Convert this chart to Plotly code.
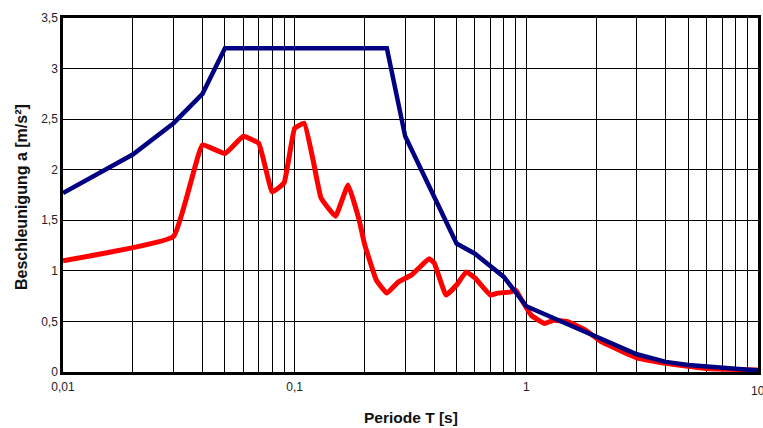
import plotly.graph_objects as go

# Design spectrum (blue)
t_design = [0.01, 0.02, 0.03, 0.04, 0.05, 0.25, 0.3, 0.5, 0.6, 0.8, 1.0, 2.0, 3.0, 4.0, 5.0, 10.0]
a_design = [1.77, 2.15, 2.46, 2.75, 3.2, 3.2, 2.33, 1.27, 1.17, 0.94, 0.65, 0.35, 0.175, 0.10, 0.07, 0.015]

# Response spectrum (red)
t_resp = [0.01, 0.03, 0.04, 0.05, 0.06, 0.07, 0.08, 0.09, 0.1, 0.11, 0.12, 0.13, 0.15, 0.17, 0.19,
          0.2, 0.225, 0.25, 0.28, 0.32, 0.38, 0.4, 0.45, 0.5, 0.55, 0.6, 0.7, 0.75, 0.85, 0.9, 0.95,
          1.05, 1.2, 1.3, 1.5, 1.8, 2.1, 2.5, 3.0, 4.0, 6.0, 10.0]
a_resp = [1.10, 1.34, 2.245, 2.16, 2.33, 2.26, 1.78, 1.87, 2.41, 2.46, 2.10, 1.72, 1.54, 1.85, 1.50,
          1.27, 0.91, 0.78, 0.89, 0.96, 1.12, 1.08, 0.76, 0.86, 0.99, 0.93, 0.76, 0.78, 0.79, 0.81, 0.72,
          0.56, 0.48, 0.51, 0.50, 0.415, 0.30, 0.22, 0.14, 0.085, 0.035, 0.02]

x_grid = [m * d for d in (0.01, 0.1, 1.0) for m in range(1, 10)] + [10.0]
x_labels = {0.01: "0,01", 0.1: "0,1", 1.0: "1"}
x_ticktext = [x_labels.get(round(v, 6), "") for v in x_grid]
x_last_label = "10"

y_ticks = [0, 0.5, 1, 1.5, 2, 2.5, 3, 3.5]
y_ticktext = ["0", "0,5", "1", "1,5", "2", "2,5", "3", "3,5"]

fig = go.Figure()
fig.add_trace(go.Scatter(x=t_resp, y=a_resp, mode="lines",
                         line=dict(color="#FF0000", width=5, shape="spline", smoothing=0.3),
                         showlegend=False))
fig.add_trace(go.Scatter(x=t_design, y=a_design, mode="lines",
                         line=dict(color="#000080", width=4.5),
                         showlegend=False))

font = "Liberation Sans, Arial, sans-serif"
W, H = 763, 428
L, R, T, B = 63, 5, 18, 56
fig.update_layout(
    width=W, height=H,
    margin=dict(l=L, r=R, t=T, b=B, autoexpand=False),
    paper_bgcolor="white", plot_bgcolor="white",
    font=dict(family=font, size=12, color="black"),
)
fig.update_xaxes(
    type="log", range=[-2, 1], automargin=False,
    tickvals=x_grid, ticktext=x_ticktext,
    showgrid=True, gridcolor="black", gridwidth=1,
    showline=True, linecolor="black", linewidth=2.5, mirror=True,
    ticks="", zeroline=False, ticklabelstandoff=2,
    tickfont=dict(size=12, color="#222"),
)
fig.update_yaxes(
    range=[0, 3.5], automargin=False,
    tickvals=y_ticks, ticktext=y_ticktext,
    showgrid=True, gridcolor="black", gridwidth=1,
    showline=True, linecolor="black", linewidth=2.5, mirror=True,
    ticks="", zeroline=False,
    tickfont=dict(size=12, color="#222"),
)
pw = W - L - R
ph = H - T - B
# last x tick label (partly clipped at the right edge as in the original)
fig.add_annotation(text=x_last_label, xref="x", yref="paper", x=1, y=-(391 - (H - B)) / ph,
                   showarrow=False, font=dict(size=12, color="#222"),
                   xanchor="center", yanchor="middle")
fig.add_annotation(text="<b>Periode T [s]</b>", xref="paper", yref="paper",
                   x=0.5, y=-(417 - (H - B)) / ph, showarrow=False,
                   font=dict(size=15.5, color="#111"), xanchor="center", yanchor="middle")
fig.add_annotation(text="<b>Beschleunigung a [m/s²]</b>", xref="paper", yref="paper",
                   x=-(L - 21) / pw, y=(H - B - 197) / ph, textangle=-90, showarrow=False,
                   font=dict(size=16, color="#111"), xanchor="center", yanchor="middle")

fig.write_html("out.html", config={"displayModeBar": False},
               post_script="document.body.style.margin='0';document.body.style.overflow='hidden';")
